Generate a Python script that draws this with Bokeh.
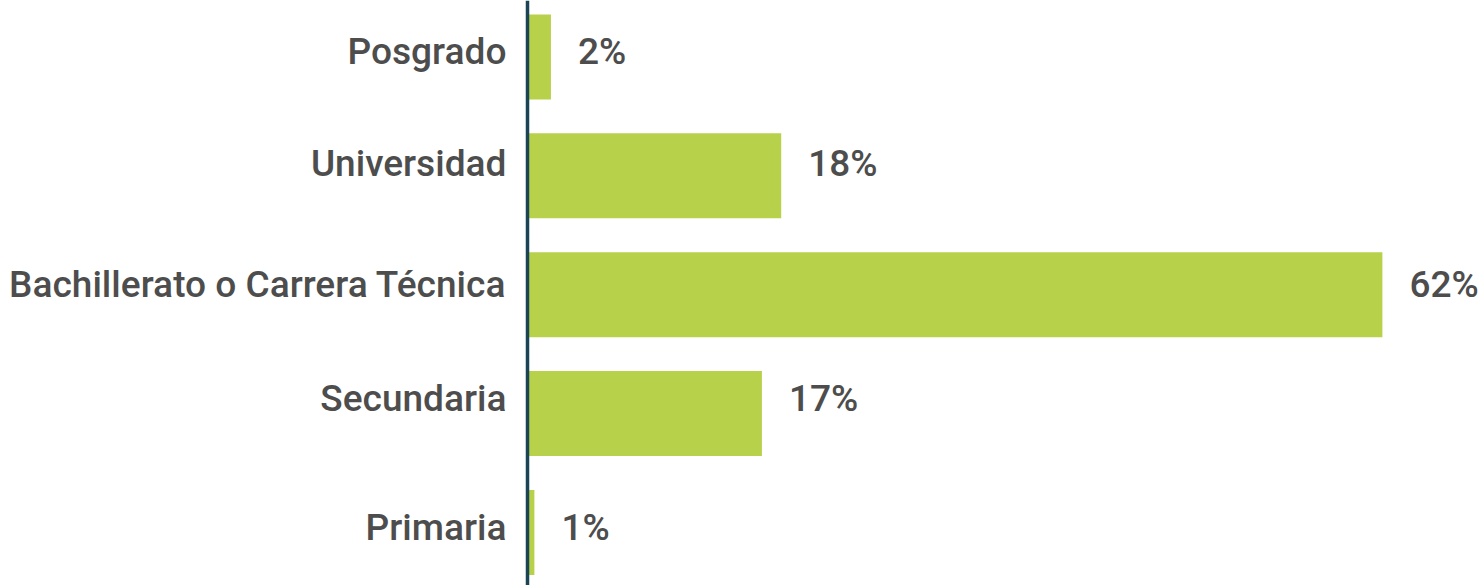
from bokeh.plotting import figure
from bokeh.models import ColumnDataSource, Range1d, Span
from bokeh.core.properties import value
from bokeh.embed import file_html
from bokeh.resources import INLINE

categories = ["Posgrado", "Universidad", "Bachillerato o Carrera Técnica", "Secundaria", "Primaria"]
values = [1.7, 18.4, 62.0, 17.0, 0.5]
labels = ["2%", "18%", "62%", "17%", "1%"]

# style: screen-space vertical nudge of each row's texts, in pixels (negative = up)
label_dy = [-5.5, -12.5, -10.5, -15.0, -4.5]

n = len(categories)
pos = [n - 1 - i for i in range(n)]
zero = [0] * n

src = ColumnDataSource(dict(y=pos, v=values, lab=labels, cat=categories, dy=label_dy, z=zero))

FONT = "'Roboto Medium', Roboto"

p = figure(width=1478, height=585, output_backend="svg", toolbar_location=None,
           x_range=Range1d(-38.22, 68.97), y_range=Range1d(-0.446, 4.475),
           min_border_left=0, min_border_right=0, min_border_top=0, min_border_bottom=0)

p.hbar(y="y", left=0, right="v", height=0.715, source=src,
       fill_color="#b8d14a", line_color=None)

p.text(x="v", y="y", text="lab", source=src, x_offset=27, y_offset="dy",
       text_align="left", text_baseline="middle",
       text_font=value(FONT), text_font_size="37px", text_color="#4d4d4d")

p.text(x="z", y="y", text="cat", source=src, x_offset=-21, y_offset="dy",
       text_align="right", text_baseline="middle",
       text_font=value(FONT), text_font_size="37px", text_color="#4d4d4d")

p.add_layout(Span(location=0, dimension="height", line_color="#1b4457", line_width=3.5))

p.xaxis.visible = False
p.yaxis.visible = False
p.xgrid.visible = False
p.ygrid.visible = False
p.outline_line_color = None

open("out.html", "w").write(file_html(p, INLINE))
